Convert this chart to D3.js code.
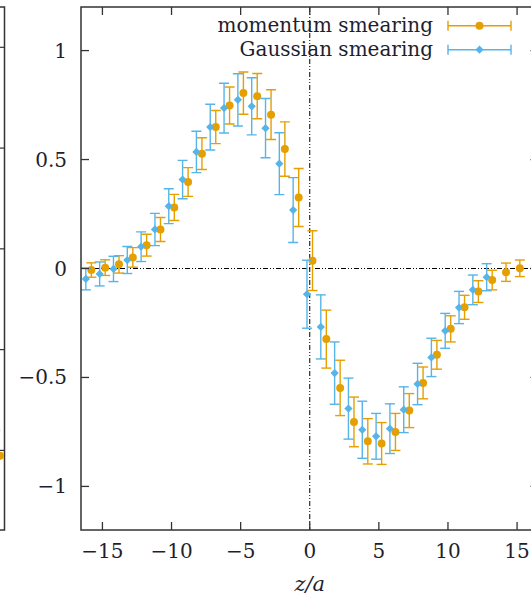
<!DOCTYPE html>
<html>
<head>
<meta charset="utf-8">
<script src="https://cdn.jsdelivr.net/npm/d3@7"></script>
<style>
  html, body { margin: 0; padding: 0; background: #fff; }
  svg { display: block; }
  text { font-family: "DejaVu Serif", "Liberation Serif", serif; fill: #1e1e2e; }
</style>
</head>
<body>
<div id="chart"></div>
<script>
// ---------- data ----------
const zMomentum = [-16,-15,-14,-13,-12,-11,-10,-9,-8,-7,-6,-5,-4,-3,-2,-1,0,1,2,3,4,5,6,7,8,9,10,11,12,13,14,15];
const yMomentum = [-0.007,0.004,0.019,0.051,0.107,0.179,0.280,0.397,0.527,0.649,0.748,0.805,0.791,0.706,0.548,0.326,0.036,
                   -0.324,-0.548,-0.704,-0.793,-0.803,-0.750,-0.652,-0.525,-0.396,-0.277,-0.178,-0.106,-0.053,-0.017,0.001];
const eMomentum = [0.033,0.036,0.040,0.045,0.050,0.055,0.060,0.066,0.073,0.076,0.085,0.097,0.104,0.114,0.125,0.133,0.137,
                   0.133,0.127,0.114,0.104,0.096,0.085,0.078,0.073,0.066,0.060,0.055,0.050,0.045,0.042,0.038];

const zGaussian = [-16,-15,-14,-13,-12,-11,-10,-9,-8,-7,-6,-5,-4,-3,-2,-1,0,1,2,3,4,5,6,7,8,9,10,11,12,13];
const yGaussian = [-0.048,-0.025,-0.002,0.039,0.100,0.179,0.286,0.408,0.535,0.649,0.736,0.774,0.744,0.644,0.481,0.268,-0.118,
                   -0.268,-0.480,-0.643,-0.740,-0.770,-0.735,-0.648,-0.530,-0.408,-0.286,-0.179,-0.098,-0.040];
const eGaussian = [0.050,0.055,0.058,0.062,0.068,0.074,0.080,0.088,0.095,0.105,0.114,0.120,0.131,0.136,0.142,0.149,0.156,
                   0.147,0.143,0.140,0.131,0.105,0.114,0.105,0.095,0.088,0.080,0.074,0.068,0.062];

const seriesNames = ["momentum smearing", "Gaussian smearing"];
const seriesShift = [0.2, -0.2];   // horizontal offset in z units of each series
const xTicks = [-15, -10, -5, 0, 5, 10, 15];
const yTicks = [-1, -0.5, 0, 0.5, 1];
const xDomain = [-16.55, 16.55];
const yDomain = [-1.2, 1.2];

// fragment of the neighbouring panel on the left
const leftTicks = [1, 0.5, 0, -0.5, -1];
const leftDomain = [-1.395, 1.2];
const leftPointsMomentum = [-1.027];
const leftPointsGaussian = [-0.9];

// ---------- layout ----------
const W = 531, H = 599;
const plot = { left: 81, right: 538.5, top: 7, bottom: 530 };
const colors = ["#E69F00", "#56B4E9"];

const svg = d3.select("#chart").append("svg").attr("width", W).attr("height", H);

const x = d3.scaleLinear().domain(xDomain).range([plot.left, plot.right]);
const y = d3.scaleLinear().domain(yDomain).range([plot.bottom, plot.top]);

// ---------- left panel fragment ----------
const yl = d3.scaleLinear().domain(leftDomain).range([plot.bottom, plot.top]);
const lp = svg.append("g");
lp.append("path").attr("d", `M-10,${plot.top}H4.5V${plot.bottom}H-10`)
  .attr("fill", "none").attr("stroke", "#333").attr("stroke-width", 1.5);
lp.selectAll("line.lt").data(leftTicks).join("line")
  .attr("x1", -5).attr("x2", 4.5).attr("y1", d => yl(d)).attr("y2", d => yl(d))
  .attr("stroke", "#333").attr("stroke-width", 1.2);
lp.selectAll("circle.lm").data(leftPointsMomentum).join("circle")
  .attr("cx", 0).attr("cy", d => yl(d)).attr("r", 4).attr("fill", colors[0]);
lp.selectAll("circle.lg").data(leftPointsGaussian).join("circle")
  .attr("cx", -3).attr("cy", d => yl(d)).attr("r", 3.2).attr("fill", colors[1]);

// ---------- zero axes ----------
svg.append("line")
  .attr("x1", plot.left).attr("x2", plot.right).attr("y1", y(0)).attr("y2", y(0))
  .attr("stroke", "#000").attr("stroke-width", 1).attr("stroke-dasharray", "5,2,1,2,1,2");
svg.append("line")
  .attr("x1", x(0)).attr("x2", x(0)).attr("y1", plot.top).attr("y2", plot.bottom)
  .attr("stroke", "#000").attr("stroke-width", 1).attr("stroke-dasharray", "5,2,1,2,1,2");

// ---------- series ----------
const series = [
  { z: zMomentum, v: yMomentum, e: eMomentum, shape: d3.symbolCircle, size: 50, rot: 0 },
  { z: zGaussian, v: yGaussian, e: eGaussian, shape: d3.symbolSquare, size: 34, rot: 45 }
];
const capW = 5;
const clipId = "plotclip";
svg.append("clipPath").attr("id", clipId).append("rect")
  .attr("x", plot.left).attr("y", plot.top)
  .attr("width", plot.right - plot.left).attr("height", plot.bottom - plot.top);

series.forEach((s, si) => {
  const pts = s.z.map((z, i) => ({ z: z + seriesShift[si], v: s.v[i], e: s.e[i] }));
  const g = svg.append("g").attr("clip-path", `url(#${clipId})`);
  const eb = g.selectAll("g.eb").data(pts).join("g")
    .attr("stroke", colors[si]).attr("stroke-width", 1.4).attr("fill", "none");
  eb.append("line").attr("x1", d => x(d.z)).attr("x2", d => x(d.z))
    .attr("y1", d => y(d.v + d.e)).attr("y2", d => y(d.v - d.e));
  eb.append("line").attr("x1", d => x(d.z) - capW).attr("x2", d => x(d.z) + capW)
    .attr("y1", d => y(d.v + d.e)).attr("y2", d => y(d.v + d.e));
  eb.append("line").attr("x1", d => x(d.z) - capW).attr("x2", d => x(d.z) + capW)
    .attr("y1", d => y(d.v - d.e)).attr("y2", d => y(d.v - d.e));
  g.selectAll("path.m").data(pts).join("path")
    .attr("d", d3.symbol().type(s.shape).size(s.size))
    .attr("transform", d => `translate(${x(d.z)},${y(d.v)}) rotate(${s.rot})`)
    .attr("fill", colors[si]);
});

// ---------- frame and ticks ----------
const tickLen = 8;
const frame = svg.append("g").attr("stroke", "#333").attr("stroke-width", 1.3);
xTicks.forEach(t => {
  frame.append("line").attr("x1", x(t)).attr("x2", x(t)).attr("y1", plot.bottom).attr("y2", plot.bottom - tickLen);
  frame.append("line").attr("x1", x(t)).attr("x2", x(t)).attr("y1", plot.top).attr("y2", plot.top + tickLen);
});
yTicks.forEach(t => {
  frame.append("line").attr("x1", plot.left).attr("x2", plot.left + tickLen).attr("y1", y(t)).attr("y2", y(t));
  frame.append("line").attr("x1", plot.right).attr("x2", plot.right - tickLen).attr("y1", y(t)).attr("y2", y(t));
});
svg.append("rect").attr("x", plot.left).attr("y", plot.top)
  .attr("width", plot.right - plot.left).attr("height", plot.bottom - plot.top)
  .attr("fill", "none").attr("stroke", "#333").attr("stroke-width", 1.5);

// ---------- tick labels ----------
const fmt = v => (v < 0 ? "\u2212" : "") + Math.abs(v);
svg.selectAll("text.xt").data(xTicks).join("text")
  .attr("x", d => x(d)).attr("y", 558).attr("text-anchor", "middle")
  .attr("font-size", 20).text(fmt);
svg.selectAll("text.yt").data(yTicks).join("text")
  .attr("x", 67).attr("y", d => y(d) + 7).attr("text-anchor", "end")
  .attr("font-size", 20).text(fmt);

svg.append("text").attr("x", x(0)).attr("y", 591).attr("text-anchor", "middle")
  .attr("font-size", 21).attr("font-style", "italic").text("z/a");

// ---------- legend ----------
const legX1 = 448, legX2 = 511, legText = 433;
const legRows = [25.7, 49.7];
seriesNames.forEach((name, si) => {
  const ly = legRows[si];
  svg.append("text").attr("x", legText).attr("y", ly + 6.5).attr("text-anchor", "end")
    .attr("font-size", 20).text(name);
  const lg = svg.append("g").attr("stroke", colors[si]).attr("stroke-width", 1.4);
  lg.append("line").attr("x1", legX1).attr("x2", legX2).attr("y1", ly).attr("y2", ly);
  lg.append("line").attr("x1", legX1).attr("x2", legX1).attr("y1", ly - 5).attr("y2", ly + 5);
  lg.append("line").attr("x1", legX2).attr("x2", legX2).attr("y1", ly - 5).attr("y2", ly + 5);
  svg.append("path").attr("d", d3.symbol().type(series[si].shape).size(series[si].size)())
    .attr("transform", `translate(${(legX1 + legX2) / 2},${ly}) rotate(${series[si].rot})`).attr("fill", colors[si]);
});
</script>
</body>
</html>
